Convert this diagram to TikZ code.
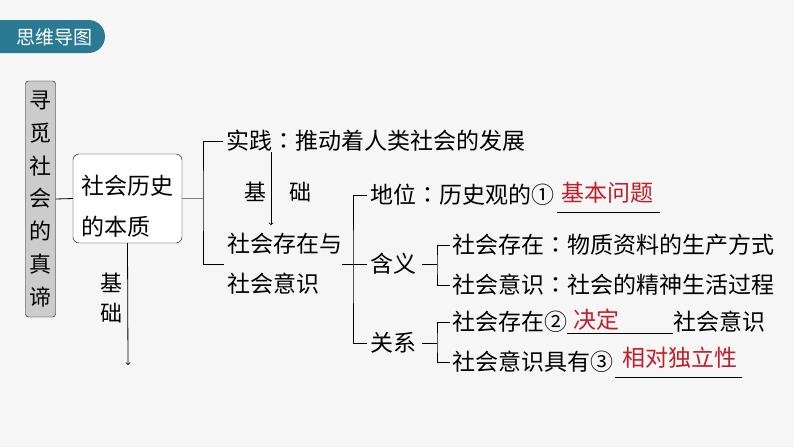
\documentclass[tikz,border=0pt]{standalone}
\usepackage{fontspec}
\newfontfamily\cjk{Noto Sans CJK SC}
\newfontfamily\cjktc{Noto Sans CJK TC}
\newcommand\zhcolon{{\cjktc ：}}
\usetikzlibrary{arrows}
\definecolor{bannerteal}{RGB}{41,122,146}
\definecolor{ansred}{RGB}{192,30,40}
\definecolor{bgpaper}{RGB}{246,246,246}

\begin{document}
\begin{tikzpicture}[x=1pt, y=-1pt,
    txt/.style={font=\cjk\fontsize{23}{40}\selectfont, inner sep=0pt, anchor=west, align=left},
    ans/.style={font=\cjk\fontsize{23}{28}\selectfont, inner sep=0pt, text=ansred},
    lbl/.style={font=\cjk\fontsize{22}{30}\selectfont, inner sep=0pt, align=center},
    lnk/.style={line width=0.8pt}]
                % Paper
                \useasboundingbox (0,0) rectangle (794,447);
                \fill[bgpaper] (0,0) rectangle (794,447);

                % Banner
                \fill[bannerteal, rounded corners=16.5pt] (-20,20) rectangle (105,53);
                \node[font=\cjk\fontsize{19}{20}\selectfont, text=white] (banner) at (54.5,37) {思维导图};

                % Topic and main node
                \node[draw, fill=gray!40, rounded corners=3pt, minimum width=30pt, minimum height=236pt, inner sep=0pt, align=center, font=\cjk\fontsize{22}{32.8}\selectfont] (topic) at (40.5,199) {寻\\觅\\社\\会\\的\\真\\谛};
                \node[draw, fill=white, rounded corners=6pt, minimum width=109pt, minimum height=89pt] (essence) at (127.5,198.5) {};
                \node[txt, anchor=center, font=\cjk\fontsize{23}{41}\selectfont] (essencetxt) at (127.5,206.5) {社会历史\\的本质};
                \draw[lnk] (topic.east) -- (essence.west);

                % Basis arrow below
                \coordinate (baseend) at (128,365);
                \draw[lnk, ->] (essence.south) -- (baseend);
                \node[lbl] (baselbl) at (111,298) {基\\础};

                % Practice and social existence
                \node[txt] (pract) at (226,141) {实践\zhcolon 推动着人类社会的发展};
                \node[txt] (exist) at (227,264) {社会存在与\\社会意识};
                \coordinate (brA) at (203,198.5);
                \draw[gray, line width=1.6pt] (essence.east) -- (brA);
                \draw[lnk] ([xshift=-3pt]pract.west) -| (brA) |- ([xshift=-3pt]exist.west);

                \node[lbl] (jiA) at (255,192) {基};
                \node[lbl] (chuA) at (300,192) {础};
                \draw[lnk, ->, shorten >=8pt] ([xshift=45pt]pract.south west) -- ([xshift=44pt]exist.north west);

                % Position, meaning, relation
                \node[txt] (pos) at (370,195) {地位\zhcolon 历史观的①};
                \node[txt] (mean) at (370,264) {含义};
                \node[txt] (rel) at (370,343) {关系};
                \coordinate (brB) at (353,264);
                \draw[lnk] (exist.east) -- (brB);
                \draw[lnk] ([xshift=-3pt]pos.west) -| (brB) |- ([xshift=-3pt]rel.west);
                \draw[lnk] (brB) -- ([xshift=-3pt]mean.west);

                % Meaning
                \node[txt] (mat) at (452,245) {社会存在\zhcolon 物质资料的生产方式};
                \node[txt] (spi) at (452,285) {社会意识\zhcolon 社会的精神生活过程};
                \coordinate (brC) at (437,264);
                \draw[lnk] ([xshift=6pt]mean.east) -- (brC);
                \draw[lnk] ([xshift=-2pt]mat.west) -| (brC) |- ([xshift=-2pt]spi.west);

                % Relation
                \node[txt] (det) at (452,322) {社会存在②};
                \node[txt] (det2) at (673,322) {社会意识};
                \node[txt] (ind) at (452,362) {社会意识具有③};
                \coordinate (brD) at (437,343);
                \draw[lnk] ([xshift=6pt]rel.east) -- (brD);
                \draw[lnk] ([xshift=-2pt]det.west) -| (brD) |- ([xshift=-2pt]ind.west);

                % Answers on the blanks
                \node[ans] (ans1) at (607,193) {基本问题};
                \node[ans] (ans2) at (596,320) {决定};
                \node[ans] (ans3) at (680,358) {相对独立性};
                \draw[lnk] ([xshift=3pt, yshift=-17pt]pos.east) -- ++(103,0);
                \draw[lnk] ([yshift=-11pt]det.east) -- ([yshift=-11pt]det2.west);
                \draw[lnk] ([xshift=2pt, yshift=-15pt]ind.east) -- ++(127,0);

\end{tikzpicture}
\end{document}
